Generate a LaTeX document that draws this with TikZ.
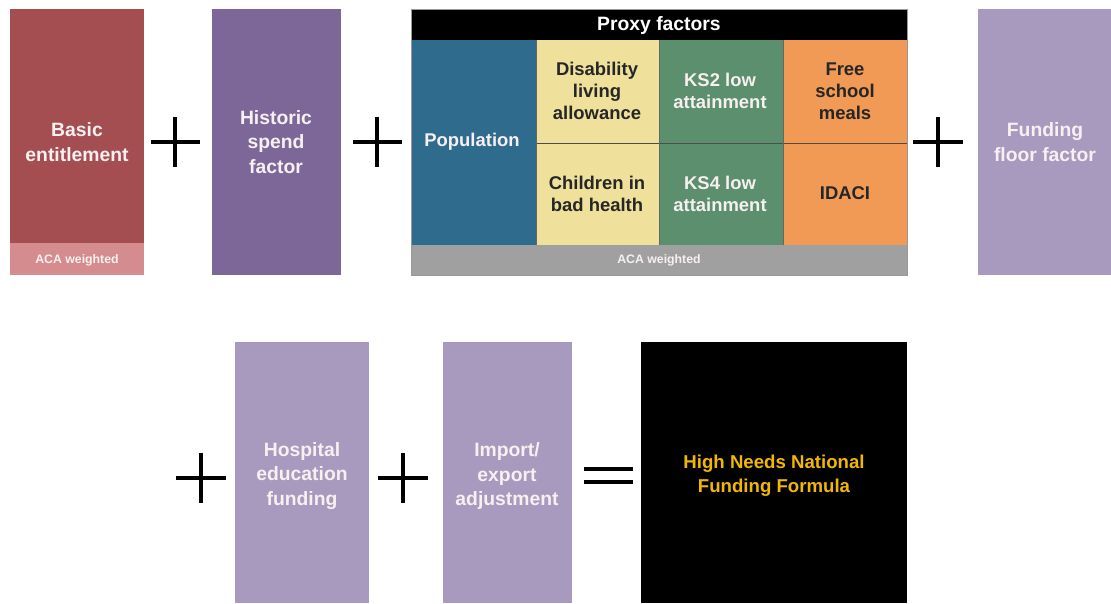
\documentclass[tikz,border=0pt]{standalone}
\usepackage{fontspec}
\setmainfont{Liberation Sans}
\definecolor{basicred}{HTML}{A54E52}
\definecolor{acapink}{HTML}{D48C8F}
\definecolor{histpurple}{HTML}{7D6698}
\definecolor{popblue}{HTML}{2F6B8C}
\definecolor{cellyellow}{HTML}{EFE09B}
\definecolor{cellgreen}{HTML}{5B8F6D}
\definecolor{cellorange}{HTML}{F09A55}
\definecolor{acagray}{HTML}{A0A0A0}
\definecolor{lilac}{HTML}{A899BE}
\definecolor{gold}{HTML}{F2B705}
\definecolor{paletext}{HTML}{F6F0F0}
\begin{document}
\begin{tikzpicture}[x=0.02cm,y=-0.02cm,
	lbl/.style={align=center,text=paletext,font=\bfseries\fontsize{11}{14}\selectfont},
	cell/.style={align=center,font=\bfseries\fontsize{10.5}{12.5}\selectfont},
	aca/.style={text=paletext,font=\bfseries\fontsize{7}{8}\selectfont},
	op/.style={line width=2.5pt}]
		\useasboundingbox (0,0) rectangle (1111,603);
		%top row
		\fill[basicred] (10,9) rectangle (144,243);
		\fill[acapink] (10,243) rectangle (144,275);
		\node[lbl] (basic) at (77,142) {Basic\\entitlement};
		\node[aca] (acaone) at (77,260) {ACA weighted};
		\draw[op] (151,142) -- (200,142) (175,117) -- (175,167);
		\fill[histpurple] (212,9) rectangle (341,275);
		\node[lbl] (historic) at (276,142) {Historic\\spend\\factor};
		\draw[op] (353,142) -- (402,142) (377,117) -- (377,167);
		%proxy factors
		\fill[black] (411,9) rectangle (907,40);
		\node[lbl,text=white] (proxy) at (659,25) {Proxy factors};
		\fill[popblue] (411,40) rectangle (536,245);
		\fill[cellyellow] (536,40) rectangle (659,245);
		\fill[cellgreen] (659,40) rectangle (783,245);
		\fill[cellorange] (783,40) rectangle (907,245);
		\fill[acagray] (411,245) rectangle (907,275);
		\draw[black!70,thin] (536,143) -- (907,143);
		\draw[black!60,very thin] (536,40) -- (536,245) (659,40) -- (659,245) (783,40) -- (783,245);
		\draw[black!40,thin] (411,9) rectangle (907,275);
		\node[cell,text=paletext] (pop) at (472,142) {Population};
		\node[cell,text=black!85] (dla) at (597,91) {Disability\\living\\allowance};
		\node[cell,text=paletext] (kstwo) at (720,91) {KS2 low\\attainment};
		\node[cell,text=black!85] (fsm) at (845,91) {Free\\school\\meals};
		\node[cell,text=black!85] (health) at (597,194) {Children in\\bad health};
		\node[cell,text=paletext] (ksfour) at (720,194) {KS4 low\\attainment};
		\node[cell,text=black!85] (idaci) at (845,193) {IDACI};
		\node[aca] (acatwo) at (659,260) {ACA weighted};
		\draw[op] (913,142) -- (963,142) (938,117) -- (938,167);
		\fill[lilac] (978,9) rectangle (1111,275);
		\node[lbl] (floor) at (1045,142) {Funding\\floor factor};
		%bottom row
		\draw[op] (176,478) -- (226,478) (201,453) -- (201,503);
		\fill[lilac] (235,342) rectangle (369,603);
		\node[lbl] (hospital) at (302,476) {Hospital\\education\\funding};
		\draw[op] (378,478) -- (428,478) (403,453) -- (403,503);
		\fill[lilac] (443,342) rectangle (572,603);
		\node[lbl] (import) at (507,476) {Import/\\export\\adjustment};
		\draw[op] (584,469) -- (633,469) (584,482) -- (633,482);
		\fill[black] (641,342) rectangle (907,603);
		\node[lbl,text=gold,font=\bfseries\fontsize{10.6}{13.8}\selectfont] (hnnff) at (774,476) {High Needs National\\Funding Formula};
\end{tikzpicture}
\end{document}
